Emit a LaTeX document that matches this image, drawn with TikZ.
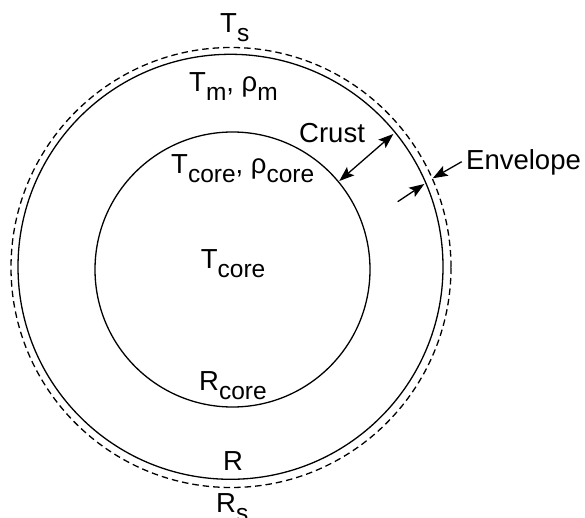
\documentclass[tikz,border=0pt]{standalone}
\usepackage{fontspec}
\setmainfont{Liberation Sans}
\usetikzlibrary{arrows.meta}
\newcommand\subsc[1]{\raisebox{-9pt}{\fontsize{24.5}{25}\selectfont #1}}
\tikzset{
  lbl/.style={inner sep=0pt, anchor=base west, font=\fontsize{27.5}{30}\selectfont},
  ring/.style={line width=1.3pt},
  envring/.style={line width=1.3pt, dash pattern=on 6.5pt off 4pt},
  arr/.style={line width=1.3pt, -{Stealth[length=15pt,width=11pt,inset=3pt]}},
  darr/.style={line width=1.3pt, {Stealth[length=15pt,width=11pt,inset=3pt]}-{Stealth[length=15pt,width=11pt,inset=3pt]}}
}
\begin{document}
\begin{tikzpicture}[x=1pt,y=-1pt]
\useasboundingbox (0,0) rectangle (585,518);
% circles
\draw[envring] (231,267.5) circle[radius=220];
\draw[ring] (230.5,266.8) circle[radius=212.5];
\draw[ring] (232.5,269.5) circle[radius=137.5];
% labels
\node[lbl] (ts) at (220,32.3) {T\subsc{s}};
\node[lbl] (tm) at (189,91.7) {T\subsc{m}, ρ\subsc{m}};
\node[lbl] (crust) at (299,143) {Crust};
\node[lbl] (tcrho) at (171,173.6) {T\subsc{core}, ρ\subsc{core}};
\node[lbl] (env) at (466,170) {Envelope};
\node[lbl] (tc) at (200.7,268.3) {T\subsc{core}};
\node[lbl] (rc) at (199,390) {R\subsc{core}};
\node[lbl] (r) at (223,470) {R};
\node[lbl] (rs) at (216,512) {R\subsc{s}};
% arrows
\coordinate (ci) at (339.3,181);
\coordinate (co) at (393.3,134);
\draw[darr] (ci) -- (co);
\coordinate (e1s) at (461.7,161.7);
\coordinate (e1t) at (432.7,178.3);
\draw[arr] (e1s) -- (e1t);
\coordinate (e2s) at (397.7,201.7);
\coordinate (e2t) at (424.3,184);
\draw[arr] (e2s) -- (e2t);
\end{tikzpicture}
\end{document}
